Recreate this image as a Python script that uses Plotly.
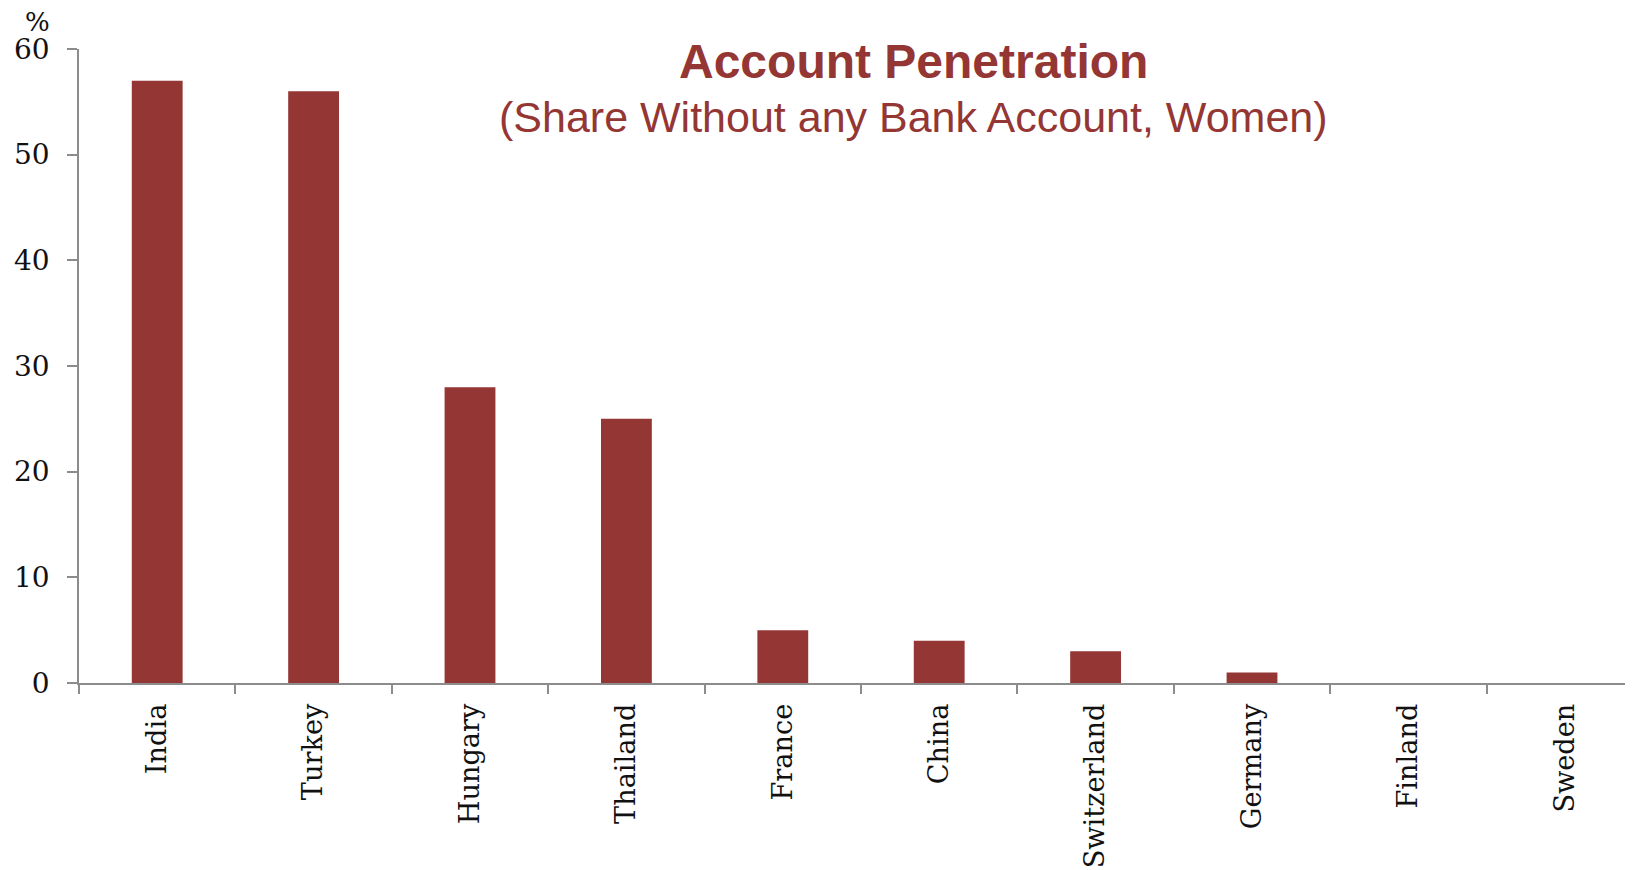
import plotly.graph_objects as go

countries = ["India", "Turkey", "Hungary", "Thailand", "France", "China",
             "Switzerland", "Germany", "Finland", "Sweden"]
share_without_account = [57, 56, 28, 25, 5, 4, 3, 1, 0, 0]
y_ticks = [0, 10, 20, 30, 40, 50, 60]

title_text = "Account Penetration"
subtitle_text = "(Share Without any Bank Account, Women)"

bar_color = "#943634"
axis_color = "#8c8c8c"
serif = "DejaVu Serif"

W, H = 1625, 862
L, T, PW, PH = 71, 41, 1554, 634

def px(xf):
    return (xf - L) / PW

def py(yf):
    return 1 - (yf - T) / PH

fig = go.Figure(go.Bar(
    x=countries,
    y=share_without_account,
    marker=dict(color=bar_color, line=dict(width=0)),
))

fig.update_layout(
    width=W, height=H,
    margin=dict(l=L, r=W - L - PW, t=T, b=H - T - PH),
    plot_bgcolor="white", paper_bgcolor="white",
    bargap=0.675,
    showlegend=False,
    xaxis=dict(
        range=[-0.5, 9.436],
        automargin=False,
        showline=True, linecolor=axis_color, linewidth=1.5,
        ticks="outside", tickson="boundaries", ticklen=9, tickcolor=axis_color, tickwidth=1.5,
        tickangle=-90,
        tickfont=dict(family=serif, size=27.2, color="#111111"),
        showgrid=False, zeroline=False,
        ticklabelstandoff=8,
    ),
    yaxis=dict(
        range=[0, 60],
        automargin=False,
        tickvals=y_ticks,
        showline=True, linecolor=axis_color, linewidth=1.5,
        ticks="outside", ticklen=10, tickcolor=axis_color, tickwidth=1.5,
        tickfont=dict(family=serif, size=28, color="#111111"),
        showgrid=False, zeroline=False,
        ticklabelstandoff=12,
    ),
    annotations=[
        dict(text="%", xref="paper", yref="paper", x=px(29), y=py(-2),
             xanchor="center", yanchor="top", showarrow=False, borderpad=0,
             font=dict(family=serif, size=26, color="#111111")),
        dict(text="<b>" + title_text + "</b>", xref="paper", yref="paper",
             x=px(905), y=py(54),
             xanchor="center", yanchor="middle", showarrow=False,
             font=dict(family="Liberation Sans", size=48, color=bar_color)),
        dict(text=subtitle_text, xref="paper", yref="paper",
             x=px(905), y=py(109),
             xanchor="center", yanchor="middle", showarrow=False,
             font=dict(family="Liberation Sans", size=43, color=bar_color)),
    ],
)

fig.write_html("out.html")
